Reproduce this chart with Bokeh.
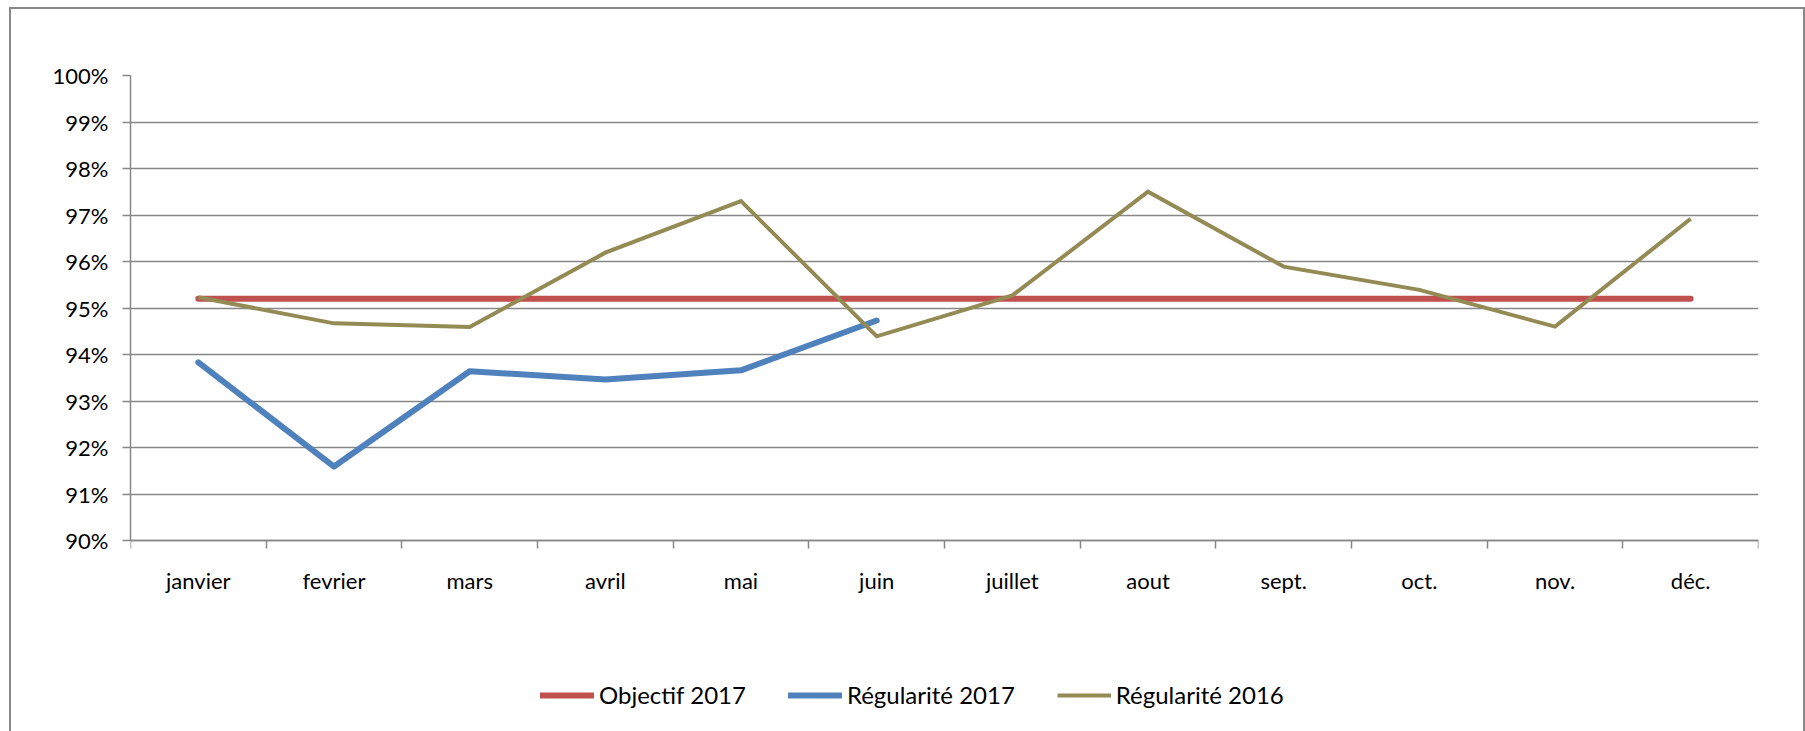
from bokeh.plotting import figure
from bokeh.models import (Range1d, FixedTicker, PrintfTickFormatter, Legend, LegendItem,
                          InlineStyleSheet)
from bokeh.embed import file_html
from bokeh.resources import INLINE

months = ["janvier", "fevrier", "mars", "avril", "mai", "juin", "juillet", "aout",
          "sept.", "oct.", "nov.", "déc."]
objectif_2017 = [95.2] * 12
regularite_2017 = [93.83, 91.59, 93.64, 93.46, 93.66, 94.73]
regularite_2016 = [95.23, 94.67, 94.59, 96.19, 97.30, 94.39, 95.27, 97.50, 95.89, 95.39, 94.60, 96.92]
y_ticks = list(range(90, 101))

FONT = "Lato"
GRAY = "#878787"
W, H = 1805, 731
FRAME_L, FRAME_R, FRAME_T, AXIS_Y = 130, 1758, 75, 540
px_per_unit = (AXIS_Y - FRAME_T) / 10.0
y_bottom = 90 - (H - AXIS_Y) / px_per_unit

xs_all = [i + 0.5 for i in range(12)]

p = figure(width=W, height=H, output_backend="svg", toolbar_location=None,
           x_range=Range1d(0, 12), y_range=Range1d(y_bottom, 100),
           min_border_left=FRAME_L, min_border_right=W - FRAME_R,
           min_border_top=FRAME_T, min_border_bottom=0)
p.outline_line_alpha = 0
p.background_fill_color = "white"
p.border_fill_color = "white"
p.stylesheets = [InlineStyleSheet(css="""
:host { position: relative; }
:host::after { content: ""; position: absolute; left: 9px; top: 7px; right: 0px; bottom: -10px;
  border: 2.5px solid #888888; pointer-events: none; z-index: 100; }
""")]

r_obj = p.line(xs_all, objectif_2017, line_color="#C0504D", line_width=6, line_cap="round")
r_2017 = p.line(xs_all[:len(regularite_2017)], regularite_2017, line_color="#4F81BD",
                line_width=6, line_cap="round", line_join="round")
r_2016 = p.line(xs_all, regularite_2016, line_color="#948A54", line_width=4,
                line_join="miter")

# x axis: drawn at 90 %, labels at centres, tick marks at boundaries
xa = p.xaxis[0]
xa.fixed_location = 90
xa.ticker = FixedTicker(ticks=xs_all, minor_ticks=list(range(13)))
xa.major_label_overrides = {x: m for x, m in zip(xs_all, months)}
xa.major_tick_out = 0
xa.major_tick_in = 0
xa.minor_tick_out = 8
xa.minor_tick_in = 0
xa.minor_tick_line_color = GRAY
xa.minor_tick_line_width = 1.5
xa.axis_line_color = GRAY
xa.axis_line_width = 1.5
xa.major_label_text_font = FONT
xa.major_label_text_font_size = "22px"
xa.major_label_text_color = "black"
xa.major_label_standoff = 18

ya = p.yaxis[0]
ya.bounds = (90, 100)
ya.ticker = FixedTicker(ticks=y_ticks)
ya.formatter = PrintfTickFormatter(format="%d%%")
ya.major_tick_out = 8
ya.major_tick_in = 0
ya.minor_tick_line_alpha = 0
ya.major_tick_line_color = GRAY
ya.major_tick_line_width = 1.5
ya.axis_line_color = GRAY
ya.axis_line_width = 1.5
ya.major_label_text_font = FONT
ya.major_label_text_font_size = "22px"
ya.major_label_text_color = "black"
ya.major_label_standoff = 14

p.xgrid.grid_line_alpha = 0
p.ygrid.ticker = FixedTicker(ticks=y_ticks)
p.ygrid.grid_line_color = GRAY
p.ygrid.grid_line_width = 1.5

legend = Legend(items=[LegendItem(label="Objectif 2017", renderers=[r_obj]),
                       LegendItem(label="Régularité 2017", renderers=[r_2017]),
                       LegendItem(label="Régularité 2016", renderers=[r_2016])],
                orientation="horizontal", location=(410, 22))
legend.label_text_font = FONT
legend.label_text_font_size = "24px"
legend.label_text_color = "black"
legend.glyph_width = 54
legend.glyph_height = 24
legend.label_height = 24
legend.label_standoff = 5
legend.spacing = 42
legend.padding = 0
legend.margin = 0
legend.border_line_alpha = 0
legend.background_fill_alpha = 0
p.add_layout(legend)

open("out.html", "w").write(file_html(p, INLINE))
